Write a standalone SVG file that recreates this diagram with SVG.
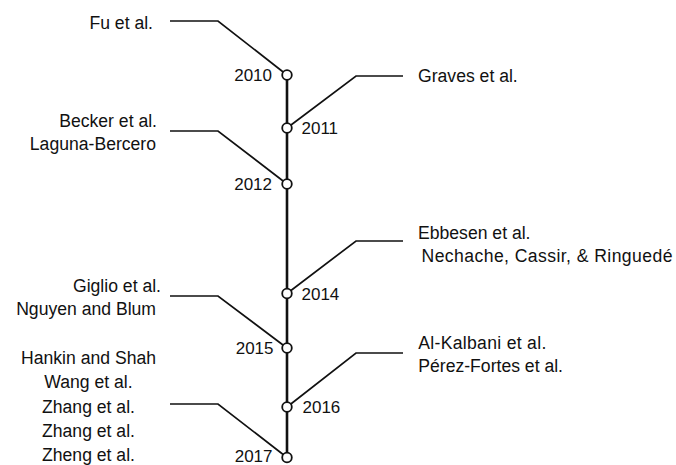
<svg xmlns="http://www.w3.org/2000/svg" width="676" height="465" viewBox="0 0 676 465">
<style>
.bg{fill:#ffffff}
.lbl{font-family:"Liberation Sans",Arial,sans-serif;font-size:17.6px;fill:#111111}
.yr{font-family:"Liberation Sans",Arial,sans-serif;font-size:17px;fill:#111111}
.end{text-anchor:end}
.mid{text-anchor:middle}
.conn{fill:none;stroke:#111111;stroke-width:1.7;stroke-linejoin:miter}
.spine{fill:none;stroke:#111111;stroke-width:2.6}
.dot{fill:#ffffff;stroke:#111111;stroke-width:1.8}
</style>
<rect class="bg" x="0" y="0" width="676" height="465"/>
<g id="connectors">
<line class="spine" x1="287" y1="75" x2="287" y2="457.5"/>
<polyline class="conn" points="170,21 218,21 287,75"/>
<polyline class="conn" points="287,128 356,76 403,76"/>
<polyline class="conn" points="170,131 218,131 287,184"/>
<polyline class="conn" points="287,293.5 356,241 403,241"/>
<polyline class="conn" points="170,296 218,296 287,348"/>
<polyline class="conn" points="287,407 356,353 403,353"/>
<polyline class="conn" points="170,404 218,404 287,457.5"/>
</g>
<g id="y2010">
<circle class="dot" cx="287" cy="75" r="4.8"/>
<text class="yr end" x="272" y="81">2010</text>
</g>
<g id="y2011">
<circle class="dot" cx="287" cy="128" r="4.8"/>
<text class="yr" x="301.5" y="134">2011</text>
</g>
<g id="y2012">
<circle class="dot" cx="287" cy="184" r="4.8"/>
<text class="yr end" x="272" y="190">2012</text>
</g>
<g id="y2014">
<circle class="dot" cx="287" cy="293.5" r="4.8"/>
<text class="yr" x="301.5" y="299.5">2014</text>
</g>
<g id="y2015">
<circle class="dot" cx="287" cy="348" r="4.8"/>
<text class="yr end" x="273.5" y="354">2015</text>
</g>
<g id="y2016">
<circle class="dot" cx="287" cy="407" r="4.8"/>
<text class="yr" x="302.5" y="413">2016</text>
</g>
<g id="y2017">
<circle class="dot" cx="287" cy="457.5" r="4.8"/>
<text class="yr end" x="272.5" y="462">2017</text>
</g>
<g id="refs2010">
<text class="lbl end" x="153" y="28.5">Fu et al.</text>
</g>
<g id="refs2011">
<text class="lbl" x="418" y="81.5">Graves et al.</text>
</g>
<g id="refs2012">
<text class="lbl end" x="157" y="127">Becker et al.</text>
<text class="lbl end" x="156" y="150">Laguna-Bercero</text>
</g>
<g id="refs2014">
<text class="lbl" x="418" y="238.5">Ebbesen et al.</text>
<text class="lbl" x="421.5" y="262" textLength="251" lengthAdjust="spacing">Nechache, Cassir, &amp; Ringuedé</text>
</g>
<g id="refs2015">
<text class="lbl end" x="161" y="292">Giglio et al.</text>
<text class="lbl end" x="156" y="315">Nguyen and Blum</text>
</g>
<g id="refs2016">
<text class="lbl" x="418.3" y="349" textLength="128" lengthAdjust="spacing">Al-Kalbani et al.</text>
<text class="lbl" x="418.3" y="372">Pérez-Fortes et al.</text>
</g>
<g id="refs2017">
<text class="lbl mid" x="88.5" y="363.5">Hankin and Shah</text>
<text class="lbl mid" x="88.5" y="388">Wang et al.</text>
<text class="lbl mid" x="88.5" y="412.5">Zhang et al.</text>
<text class="lbl mid" x="88.5" y="437">Zhang et al.</text>
<text class="lbl mid" x="88.5" y="461">Zheng et al.</text>
</g>
</svg>
